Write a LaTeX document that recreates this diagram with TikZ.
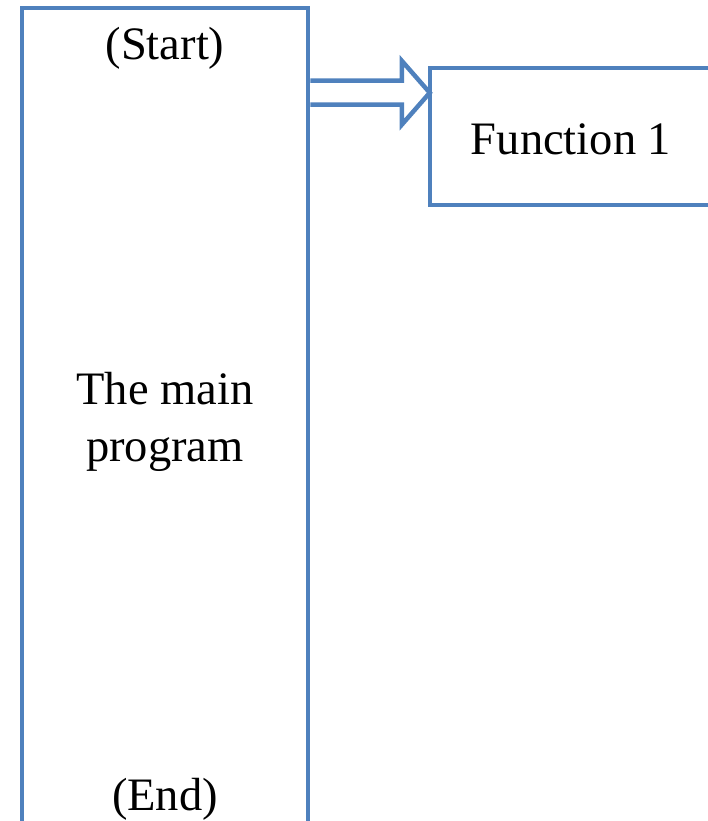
\documentclass[tikz,border=0pt]{standalone}
\usepackage{fontspec}
\setmainfont{Liberation Serif}
\usetikzlibrary{calc}
\definecolor{officeblue}{HTML}{4F81BD}
\tikzset{
  box/.style={draw=officeblue, line width=4.5pt, fill=white, rectangle, inner sep=0pt},
  label text/.style={font=\fontsize{46.5}{57}\selectfont, align=center, inner sep=0pt},
  block arrow/.style={draw=officeblue, line width=4.5pt, fill=white, line join=miter}
}
\begin{document}
\begin{tikzpicture}[x=1pt, y=-1pt]
  \useasboundingbox (0,0) rectangle (708,821);
  \clip (0,0) rectangle (708,821);
  % main program column (runs past the lower edge)
  \node[box, minimum width=286pt, minimum height=842pt] (main) at (165,429) {};
  % function box (runs past the right edge)
  \node[box, minimum width=300pt, minimum height=137pt] (fn) at (580,136.5) {};
  \node[label text] (fnlabel) at (571,139) {Function 1};
  % labels inside the main column
  \node[label text] (start) at (165,48) {(Start)};
  \node[label text] (body) at (165,422) {The main\\program};
  \node[label text] (end) at (165,799) {(End)};
  % hollow block arrow from the column to the function box
  \coordinate (as) at ($(main.north east)+(0,87)$);
  \coordinate (tip) at ($(fn.north west)+(2,27)$);
  \draw[block arrow]
    ($(as)+(0,-12)$) -- ($(tip)+(-28,-12)$) -- ($(tip)+(-28,-32)$) -- (tip)
    -- ($(tip)+(-28,32)$) -- ($(tip)+(-28,12)$) -- ($(as)+(0,12)$);
\end{tikzpicture}
\end{document}
